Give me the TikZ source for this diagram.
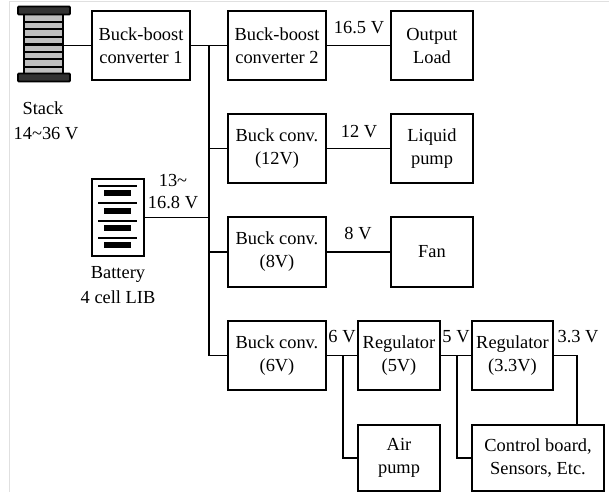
\documentclass[tikz,border=0pt]{standalone}
\usepackage{fontspec}
\setmainfont{Liberation Serif}
\usetikzlibrary{arrows.meta,positioning,fit,backgrounds}

\begin{document}
\begin{tikzpicture}[x=0.5pt, y=-0.5pt, line width=0.9pt,
  box/.style={draw, anchor=north west, align=center, inner sep=0pt, outer sep=0pt, font=\fontsize{9.2}{11.5}\selectfont},
  lbl/.style={align=center, inner sep=0pt, font=\fontsize{9.2}{11.5}\selectfont},
  plate/.style={draw, fill=black!80, minimum width=26pt, minimum height=4pt, inner sep=0pt, rounded corners=0.5pt}]
  \useasboundingbox (0,0) rectangle (609,492);
  \draw[black!12, line width=0.5pt] (9,492) -- (9,1.5) -- (609,1.5);
  % stack
  \fill[black!25] (24,15) rectangle (63,73);
  \foreach \y in {22,29.4,37,44.5,52,59.4,67}
    \draw[line width=1.1pt] (24,\y) -- (63,\y);
  \draw[line width=1.2pt] (24,15) -- (24,73) (63,15) -- (63,73);
  \node[plate] (stacktop) at (44,10.5) {};
  \node[plate] (stackbot) at (44,77.5) {};
  \coordinate (stack) at (63,45.5);
  \node[lbl] (stacklbl) at (43,108) {Stack};
  \node[lbl] (stackv) at (46,134) {14\textasciitilde36 V};
  % battery
  \node[draw, outer sep=0pt, minimum width=26pt, minimum height=38.5pt, inner sep=0pt] (batt) at (118,217.5) {};
  \foreach \y in {186,203,221,238}
    \draw[line width=0.8pt] (98,\y) -- (137,\y);
  \foreach \y in {193,211,228,245}
    \draw[line width=2.6pt] (104,\y) -- (131,\y);
  \node[lbl] (battlbl) at (118,274) {Battery};
  \node[lbl] (battv) at (118,297) {4 cell LIB};
  % converters
  \node[box, minimum width=49pt, minimum height=34.5pt] (bb1) at (92,11) {Buck-boost\\converter 1};
  \node[box, minimum width=49pt, minimum height=34.5pt] (bb2) at (228,11) {Buck-boost\\converter 2};
  \node[box, minimum width=49pt, minimum height=34.5pt] (b12) at (228,114) {Buck conv.\\(12V)};
  \node[box, minimum width=49pt, minimum height=35pt] (b8) at (228,217) {Buck conv.\\(8V)};
  \node[box, minimum width=49pt, minimum height=34.5pt] (b6) at (228,321) {Buck conv.\\(6V)};
  \node[box, minimum width=41pt, minimum height=34.5pt] (load) at (391,11) {Output\\Load};
  \node[box, minimum width=41pt, minimum height=34.5pt] (liq) at (391,114) {Liquid\\pump};
  \node[box, minimum width=41pt, minimum height=35pt] (fan) at (391,217) {Fan};
  \node[box, minimum width=41pt, minimum height=34.5pt] (r5) at (358,321) {Regulator\\(5V)};
  \node[box, minimum width=40.5pt, minimum height=34.5pt] (r33) at (472,321) {Regulator\\(3.3V)};
  \node[box, minimum width=41pt, minimum height=33pt] (air) at (358,425) {Air\\pump};
  \node[box, minimum width=66pt, minimum height=33pt] (ctrl) at (472,425) {Control board,\\Sensors, Etc.};
  % wires
  \coordinate (bus) at (209,45.5);
  \coordinate (j6) at (343,355.5);
  \coordinate (j5) at (457,355.5);
  \coordinate (c33) at (577,425);
  \draw (stack) -- (bb1.west);
  \draw (bb1.east) -- (bb2.west);
  \draw (bus) |- (b6.west);
  \draw (bus |- b12.west) -- (b12.west);
  \draw (bus |- b8.west) -- (b8.west);
  \draw (batt.east) -- (bus |- batt.east);
  \draw (bb2.east) -- (load.west);
  \draw (b12.east) -- (liq.west);
  \draw (b8.east) -- (fan.west);
  \draw (b6.east) -- (r5.west);
  \draw (r5.east) -- (r33.west);
  \draw (j6) |- (air.west);
  \draw (j5) |- (ctrl.west);
  \draw (r33.east) -| (c33);
  % voltages
  \node[lbl] (v165) at (359,28) {16.5 V};
  \node[lbl] (v12) at (359,132) {12 V};
  \node[lbl] (v8) at (358,234) {8 V};
  \node[lbl] (v6) at (342,337) {6 V};
  \node[lbl] (v5) at (456,337) {5 V};
  \node[lbl] (v33) at (578,337) {3.3 V};
  \node[lbl] (v13) at (173,180) {13\textasciitilde};
  \node[lbl] (v168) at (173,203) {16.8 V};
\end{tikzpicture}
\end{document}
